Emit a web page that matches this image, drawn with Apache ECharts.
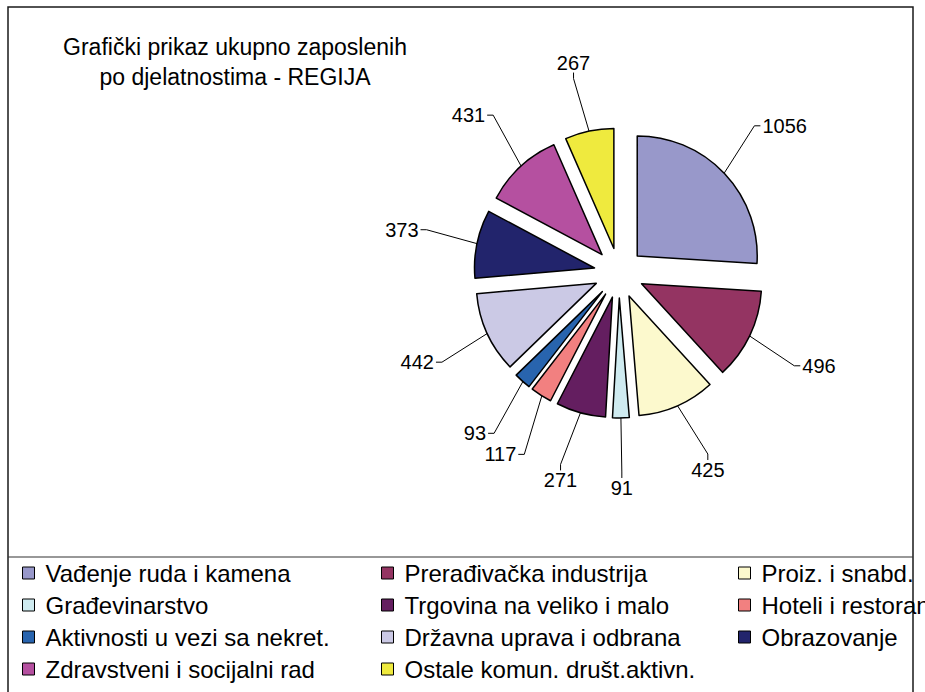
<!DOCTYPE html>
<html>
<head>
<meta charset="utf-8">
<script src="https://cdn.jsdelivr.net/npm/echarts@6/dist/echarts.min.js"></script>
<style>
html,body{margin:0;padding:0;background:#fff;}
#chart{width:925px;height:692px;}
</style>
</head>
<body>
<div id="chart"></div>
<script>
const titleLines = ['Grafički prikaz ukupno zaposlenih', 'po djelatnostima - REGIJA'];
const categories = [
  'Vađenje ruda i kamena',
  'Prerađivačka industrija',
  'Proiz. i snabd.',
  'Građevinarstvo',
  'Trgovina na veliko i malo',
  'Hoteli i restorani',
  'Aktivnosti u vezi sa nekret.',
  'Državna uprava i odbrana',
  'Obrazovanje',
  'Zdravstveni i socijalni rad',
  'Ostale komun. društ.aktivn.'
];
const values = [1056, 496, 425, 91, 271, 117, 93, 442, 373, 431, 267];
const colors = ['#9898CA', '#943462', '#FCF9CD', '#CFEBF0', '#641E60', '#F28080', '#2864AE', '#CBC9E5', '#22246C', '#B550A0', '#EFEA3E'];

const FONT = "'Liberation Sans', Arial, sans-serif";
const CX = 619, CY = 273, R = 120, OFFSET = 25;
const LABEL_R = 205, STUB = 6;

const total = values.reduce((a, b) => a + b, 0);
const startFrac = [], midAngles = [];
(function () {
  let acc = 0;
  values.forEach(v => {
    startFrac.push(acc / total);
    midAngles.push((acc + v / 2) / total * 2 * Math.PI);
    acc += v;
  });
})();

const chart = echarts.init(document.getElementById('chart'), null, {renderer: 'svg'});

const legendCols = [0, 1, 2].map(c => categories.filter((_, i) => i % 3 === c));
const legendLeft = [22, 381, 738];

function layoutLabel(params) {
  if (params.dataIndex !== 0) return {};
  const i = params.seriesIndex;
  const a = midAngles[i];
  const dx = Math.sin(a), dy = -Math.cos(a);
  const w = params.labelRect.width, h = params.labelRect.height;
  const ax = CX + LABEL_R * dx, ay = CY + LABEL_R * dy;
  const lx = ax + dx * w / 2, ly = ay + dy * h / 2;
  const p0 = [CX + (R + OFFSET - 3) * dx, CY + (R + OFFSET - 3) * dy];
  let p2, p1;
  if (Math.abs(dx) > 0.5) {
    const sx = dx > 0 ? 1 : -1;
    p2 = [lx - sx * (w / 2 + 2), ly];
    p1 = [p2[0] - sx * STUB, ly];
  } else {
    const sy = dy > 0 ? 1 : -1;
    p2 = [lx, ly - sy * (h / 2)];
    p1 = [lx, p2[1] - sy * STUB];
  }
  return {x: lx, y: ly, align: 'center', verticalAlign: 'middle', labelLinePoints: [p0, p1, p2]};
}

const series = categories.map((name, i) => {
  const a = midAngles[i];
  return {
    type: 'pie',
    name: name,
    color: colors[i],
    center: [CX + OFFSET * Math.sin(a), CY - OFFSET * Math.cos(a)],
    radius: R,
    startAngle: 90 - startFrac[i] * 360,
    clockwise: true,
    silent: true,
    avoidLabelOverlap: false,
    itemStyle: {color: colors[i], borderColor: '#000', borderWidth: 1.5},
    label: {show: true, position: 'outside', formatter: '{c}', fontFamily: FONT, fontSize: 20, color: '#000'},
    labelLine: {show: true, length: 20, length2: 10, lineStyle: {color: '#000', width: 1}},
    labelLayout: layoutLabel,
    emphasis: {disabled: true},
    data: [
      {name: name, value: values[i], itemStyle: {color: colors[i]}},
      {name: '__rest' + i, value: total - values[i], itemStyle: {color: 'rgba(0,0,0,0)', borderWidth: 0},
        label: {show: false}, labelLine: {show: false}}
    ]
  };
});

const option = {
  animation: false,
  backgroundColor: '#fff',
  color: colors,
  graphic: [
    {type: 'rect', shape: {x: 8, y: 7, width: 905, height: 700}, style: {fill: 'none', stroke: '#1a1a1a', lineWidth: 1.5}, z: 0},
    {type: 'line', shape: {x1: 8, y1: 557, x2: 913, y2: 557}, style: {stroke: '#333', lineWidth: 1.2}, z: 0},
    {type: 'text', x: 235, y: 32, style: {text: titleLines.join('\n'), font: '23px ' + FONT, fill: '#000', align: 'center', lineHeight: 30}}
  ],
  legend: legendCols.map((col, c) => ({
    data: col,
    orient: 'vertical',
    left: legendLeft[c],
    top: 561,
    padding: 0,
    itemWidth: 12,
    itemHeight: 12,
    itemGap: 8,
    icon: 'rect',
    selectedMode: false,
    itemStyle: {borderColor: '#000', borderWidth: 1},
    textStyle: {fontFamily: FONT, fontSize: 24, color: '#000', lineHeight: 24, padding: [0, 0, 0, 6]}
  })),
  series: series
};
chart.setOption(option);
</script>
</body>
</html>
